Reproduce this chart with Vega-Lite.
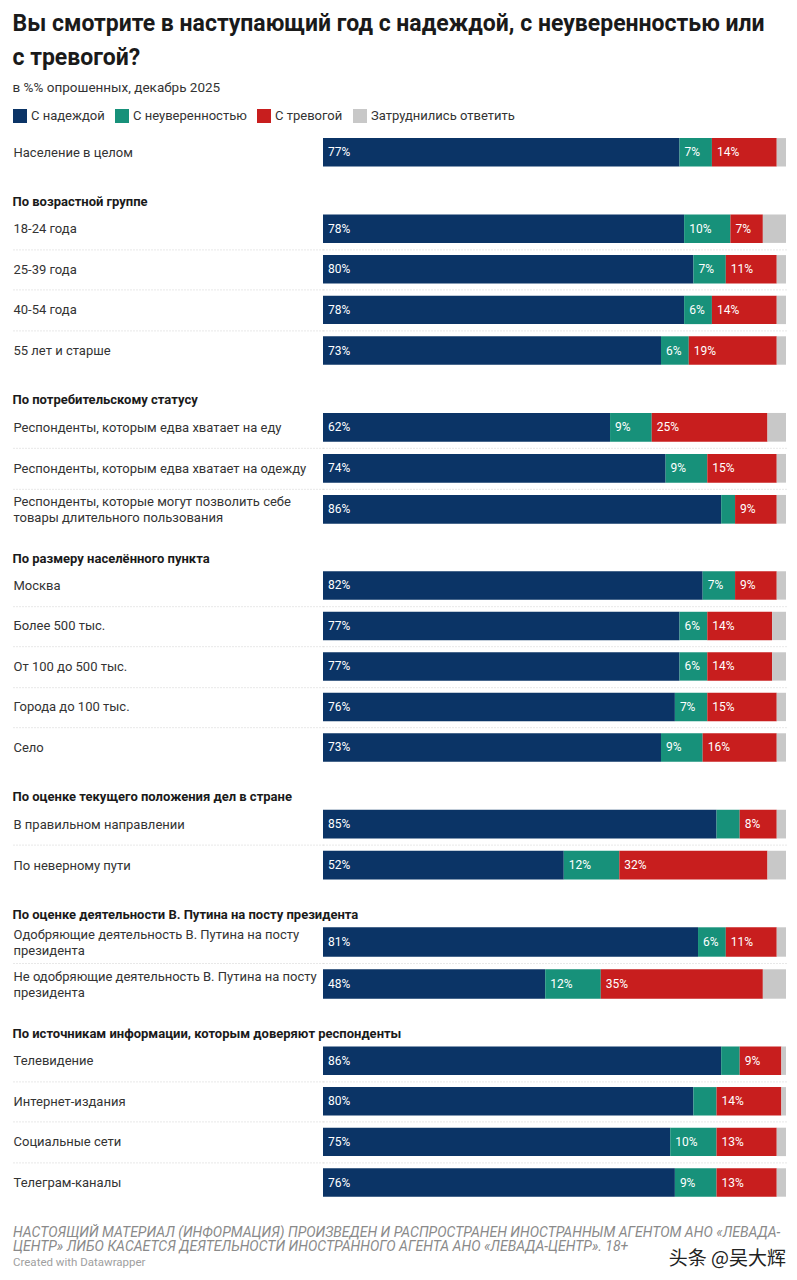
{
  "$schema": "https://vega.github.io/schema/vega-lite/v6.json",
  "background": "white",
  "padding": {"left": 12, "right": 12, "top": 12, "bottom": 0},
  "title": {
    "text": ["Вы смотрите в наступающий год с надеждой, с неуверенностью или", "с тревогой?"],
    "subtitle": "в %% опрошенных, декабрь 2025",
    "anchor": "start",
    "font": "Roboto",
    "fontSize": 23,
    "fontWeight": "bold",
    "color": "#1a1a1a",
    "lineHeight": 34,
    "subtitleFont": "Roboto",
    "subtitleFontSize": 13.5,
    "subtitleColor": "#333333",
    "subtitlePadding": 11,
    "offset": 15
  },
  "data": {
    "values": [
      {"g": 0, "row": "Население в целом", "С надеждой": 77, "С неуверенностью": 7, "С тревогой": 14, "Затруднились ответить": 2},
      {"g": 1, "row": "18-24 года", "С надеждой": 78, "С неуверенностью": 10, "С тревогой": 7, "Затруднились ответить": 5},
      {"g": 1, "row": "25-39 года", "С надеждой": 80, "С неуверенностью": 7, "С тревогой": 11, "Затруднились ответить": 2},
      {"g": 1, "row": "40-54 года", "С надеждой": 78, "С неуверенностью": 6, "С тревогой": 14, "Затруднились ответить": 2},
      {"g": 1, "row": "55 лет и старше", "С надеждой": 73, "С неуверенностью": 6, "С тревогой": 19, "Затруднились ответить": 2},
      {"g": 2, "row": "Респонденты, которым едва хватает на еду", "С надеждой": 62, "С неуверенностью": 9, "С тревогой": 25, "Затруднились ответить": 4},
      {"g": 2, "row": "Респонденты, которым едва хватает на одежду", "С надеждой": 74, "С неуверенностью": 9, "С тревогой": 15, "Затруднились ответить": 2},
      {"g": 2, "row": "Респонденты, которые могут позволить себе|товары длительного пользования", "С надеждой": 86, "С неуверенностью": 3, "С тревогой": 9, "Затруднились ответить": 2},
      {"g": 3, "row": "Москва", "С надеждой": 82, "С неуверенностью": 7, "С тревогой": 9, "Затруднились ответить": 2},
      {"g": 3, "row": "Более 500 тыс.", "С надеждой": 77, "С неуверенностью": 6, "С тревогой": 14, "Затруднились ответить": 3},
      {"g": 3, "row": "От 100 до 500 тыс.", "С надеждой": 77, "С неуверенностью": 6, "С тревогой": 14, "Затруднились ответить": 3},
      {"g": 3, "row": "Города до 100 тыс.", "С надеждой": 76, "С неуверенностью": 7, "С тревогой": 15, "Затруднились ответить": 2},
      {"g": 3, "row": "Село", "С надеждой": 73, "С неуверенностью": 9, "С тревогой": 16, "Затруднились ответить": 2},
      {"g": 4, "row": "В правильном направлении", "С надеждой": 85, "С неуверенностью": 5, "С тревогой": 8, "Затруднились ответить": 2},
      {"g": 4, "row": "По неверному пути", "С надеждой": 52, "С неуверенностью": 12, "С тревогой": 32, "Затруднились ответить": 4},
      {"g": 5, "row": "Одобряющие деятельность В. Путина на посту|президента", "С надеждой": 81, "С неуверенностью": 6, "С тревогой": 11, "Затруднились ответить": 2},
      {"g": 5, "row": "Не одобряющие деятельность В. Путина на посту|президента", "С надеждой": 48, "С неуверенностью": 12, "С тревогой": 35, "Затруднились ответить": 5},
      {"g": 6, "row": "Телевидение", "С надеждой": 86, "С неуверенностью": 4, "С тревогой": 9, "Затруднились ответить": 1},
      {"g": 6, "row": "Интернет-издания", "С надеждой": 80, "С неуверенностью": 5, "С тревогой": 14, "Затруднились ответить": 1},
      {"g": 6, "row": "Социальные сети", "С надеждой": 75, "С неуверенностью": 10, "С тревогой": 13, "Затруднились ответить": 2},
      {"g": 6, "row": "Телеграм-каналы", "С надеждой": 76, "С неуверенностью": 9, "С тревогой": 13, "Затруднились ответить": 2}
    ]
  },
  "transform": [
    {"fold": ["С надеждой", "С неуверенностью", "С тревогой", "Затруднились ответить"], "as": ["cat", "pct"]},
    {"calculate": "indexof(['С надеждой', 'С неуверенностью', 'С тревогой', 'Затруднились ответить'], datum.cat)", "as": "k"},
    {"calculate": "datum.pct + '%'", "as": "lab"},
    {"stack": "pct", "groupby": ["row"], "sort": [{"field": "k"}], "as": ["x0", "x1"]}
  ],
  "vconcat": [
    {
      "width": 463, "height": 40.6,
      "transform": [{"filter": "datum.g == 0"}],
      "encoding": {"y": {"field": "row", "type": "nominal", "sort": null, "axis": {"title": null, "domain": false, "labelAlign": "left", "labelPadding": 0, "labelFont": "Roboto", "labelFontSize": 13, "labelColor": "#333333", "labelLimit": 310, "labelLineHeight": 16, "labelOverlap": false, "labelExpr": "split(datum.label, '|')", "ticks": true, "tickSize": 310, "tickColor": "#d0d0d0", "tickDash": [1, 2], "tickOpacity": 0, "tickOffset": 20.3, "labelOffset": -20.3, "grid": true, "gridColor": "#d0d0d0", "gridDash": [1, 2], "gridOpacity": 0}}},
      "layer": [
        {"mark": {"type": "bar"}, "encoding": {"x": {"field": "x0", "type": "quantitative", "scale": {"domain": [0, 100]}, "axis": null}, "x2": {"field": "x1"}, "color": {"field": "cat", "type": "nominal", "sort": ["С надеждой", "С неуверенностью", "С тревогой", "Затруднились ответить"], "scale": {"domain": ["С надеждой", "С неуверенностью", "С тревогой", "Затруднились ответить"], "range": ["#0b3466", "#17917a", "#c81e1e", "#c8c8c8"]}, "legend": {"title": null, "orient": "none", "legendX": -310, "legendY": -23}}}},
        {"transform": [{"filter": "datum.cat != 'Затруднились ответить' && datum.pct >= 6"}], "mark": {"type": "text", "align": "left", "baseline": "middle", "dx": 5, "color": "white", "font": "Roboto", "fontSize": 12}, "encoding": {"x": {"field": "x0", "type": "quantitative"}, "text": {"field": "lab"}}}
      ]
    },
    {
      "title": "По возрастной группе",
      "width": 463, "height": 162.4,
      "transform": [{"filter": "datum.g == 1"}],
      "encoding": {"y": {"field": "row", "type": "nominal", "sort": null, "axis": {"title": null, "domain": false, "labelAlign": "left", "labelPadding": 0, "labelFont": "Roboto", "labelFontSize": 13, "labelColor": "#333333", "labelLimit": 310, "labelLineHeight": 16, "labelOverlap": false, "labelExpr": "split(datum.label, '|')", "ticks": true, "tickSize": 310, "tickColor": "#d0d0d0", "tickDash": [1, 2], "tickOpacity": {"condition": {"test": "datum.index == 1", "value": 0}, "value": 1}, "tickOffset": 20.3, "labelOffset": -20.3, "grid": true, "gridColor": "#d0d0d0", "gridDash": [1, 2], "gridOpacity": {"condition": {"test": "datum.index == 1", "value": 0}, "value": 1}}}},
      "layer": [
        {"mark": {"type": "bar"}, "encoding": {"x": {"field": "x0", "type": "quantitative", "scale": {"domain": [0, 100]}, "axis": null}, "x2": {"field": "x1"}, "color": {"field": "cat", "type": "nominal", "sort": ["С надеждой", "С неуверенностью", "С тревогой", "Затруднились ответить"], "scale": {"domain": ["С надеждой", "С неуверенностью", "С тревогой", "Затруднились ответить"], "range": ["#0b3466", "#17917a", "#c81e1e", "#c8c8c8"]}, "legend": {"title": null, "orient": "none", "legendX": -310, "legendY": -23}}}},
        {"transform": [{"filter": "datum.cat != 'Затруднились ответить' && datum.pct >= 6"}], "mark": {"type": "text", "align": "left", "baseline": "middle", "dx": 5, "color": "white", "font": "Roboto", "fontSize": 12}, "encoding": {"x": {"field": "x0", "type": "quantitative"}, "text": {"field": "lab"}}}
      ]
    },
    {
      "title": "По потребительскому статусу",
      "width": 463, "height": 123,
      "transform": [{"filter": "datum.g == 2"}],
      "encoding": {"y": {"field": "row", "type": "nominal", "sort": null, "axis": {"title": null, "domain": false, "labelAlign": "left", "labelPadding": 0, "labelFont": "Roboto", "labelFontSize": 13, "labelColor": "#333333", "labelLimit": 310, "labelLineHeight": 16, "labelOverlap": false, "labelExpr": "split(datum.label, '|')", "ticks": true, "tickSize": 310, "tickColor": "#d0d0d0", "tickDash": [1, 2], "tickOpacity": {"condition": {"test": "datum.index == 1", "value": 0}, "value": 1}, "tickOffset": 20.5, "labelOffset": {"condition": {"test": "indexof(datum.value, '|') >= 0", "value": -28.5}, "value": -20.5}, "grid": true, "gridColor": "#d0d0d0", "gridDash": [1, 2], "gridOpacity": {"condition": {"test": "datum.index == 1", "value": 0}, "value": 1}}}},
      "layer": [
        {"mark": {"type": "bar"}, "encoding": {"x": {"field": "x0", "type": "quantitative", "scale": {"domain": [0, 100]}, "axis": null}, "x2": {"field": "x1"}, "color": {"field": "cat", "type": "nominal", "sort": ["С надеждой", "С неуверенностью", "С тревогой", "Затруднились ответить"], "scale": {"domain": ["С надеждой", "С неуверенностью", "С тревогой", "Затруднились ответить"], "range": ["#0b3466", "#17917a", "#c81e1e", "#c8c8c8"]}, "legend": {"title": null, "orient": "none", "legendX": -310, "legendY": -23}}}},
        {"transform": [{"filter": "datum.cat != 'Затруднились ответить' && datum.pct >= 6"}], "mark": {"type": "text", "align": "left", "baseline": "middle", "dx": 5, "color": "white", "font": "Roboto", "fontSize": 12}, "encoding": {"x": {"field": "x0", "type": "quantitative"}, "text": {"field": "lab"}}}
      ]
    },
    {
      "title": "По размеру населённого пункта",
      "width": 463, "height": 202.5,
      "transform": [{"filter": "datum.g == 3"}],
      "encoding": {"y": {"field": "row", "type": "nominal", "sort": null, "axis": {"title": null, "domain": false, "labelAlign": "left", "labelPadding": 0, "labelFont": "Roboto", "labelFontSize": 13, "labelColor": "#333333", "labelLimit": 310, "labelLineHeight": 16, "labelOverlap": false, "labelExpr": "split(datum.label, '|')", "ticks": true, "tickSize": 310, "tickColor": "#d0d0d0", "tickDash": [1, 2], "tickOpacity": {"condition": {"test": "datum.index == 1", "value": 0}, "value": 1}, "tickOffset": 20.25, "labelOffset": -20.25, "grid": true, "gridColor": "#d0d0d0", "gridDash": [1, 2], "gridOpacity": {"condition": {"test": "datum.index == 1", "value": 0}, "value": 1}}}},
      "layer": [
        {"mark": {"type": "bar"}, "encoding": {"x": {"field": "x0", "type": "quantitative", "scale": {"domain": [0, 100]}, "axis": null}, "x2": {"field": "x1"}, "color": {"field": "cat", "type": "nominal", "sort": ["С надеждой", "С неуверенностью", "С тревогой", "Затруднились ответить"], "scale": {"domain": ["С надеждой", "С неуверенностью", "С тревогой", "Затруднились ответить"], "range": ["#0b3466", "#17917a", "#c81e1e", "#c8c8c8"]}, "legend": {"title": null, "orient": "none", "legendX": -310, "legendY": -23}}}},
        {"transform": [{"filter": "datum.cat != 'Затруднились ответить' && datum.pct >= 6"}], "mark": {"type": "text", "align": "left", "baseline": "middle", "dx": 5, "color": "white", "font": "Roboto", "fontSize": 12}, "encoding": {"x": {"field": "x0", "type": "quantitative"}, "text": {"field": "lab"}}}
      ]
    },
    {
      "title": "По оценке текущего положения дел в стране",
      "width": 463, "height": 82,
      "transform": [{"filter": "datum.g == 4"}],
      "encoding": {"y": {"field": "row", "type": "nominal", "sort": null, "axis": {"title": null, "domain": false, "labelAlign": "left", "labelPadding": 0, "labelFont": "Roboto", "labelFontSize": 13, "labelColor": "#333333", "labelLimit": 310, "labelLineHeight": 16, "labelOverlap": false, "labelExpr": "split(datum.label, '|')", "ticks": true, "tickSize": 310, "tickColor": "#d0d0d0", "tickDash": [1, 2], "tickOpacity": {"condition": {"test": "datum.index == 1", "value": 0}, "value": 1}, "tickOffset": 20.5, "labelOffset": -20.5, "grid": true, "gridColor": "#d0d0d0", "gridDash": [1, 2], "gridOpacity": {"condition": {"test": "datum.index == 1", "value": 0}, "value": 1}}}},
      "layer": [
        {"mark": {"type": "bar"}, "encoding": {"x": {"field": "x0", "type": "quantitative", "scale": {"domain": [0, 100]}, "axis": null}, "x2": {"field": "x1"}, "color": {"field": "cat", "type": "nominal", "sort": ["С надеждой", "С неуверенностью", "С тревогой", "Затруднились ответить"], "scale": {"domain": ["С надеждой", "С неуверенностью", "С тревогой", "Затруднились ответить"], "range": ["#0b3466", "#17917a", "#c81e1e", "#c8c8c8"]}, "legend": {"title": null, "orient": "none", "legendX": -310, "legendY": -23}}}},
        {"transform": [{"filter": "datum.cat != 'Затруднились ответить' && datum.pct >= 6"}], "mark": {"type": "text", "align": "left", "baseline": "middle", "dx": 5, "color": "white", "font": "Roboto", "fontSize": 12}, "encoding": {"x": {"field": "x0", "type": "quantitative"}, "text": {"field": "lab"}}}
      ]
    },
    {
      "title": "По оценке деятельности В. Путина на посту президента",
      "width": 463, "height": 84,
      "transform": [{"filter": "datum.g == 5"}],
      "encoding": {"y": {"field": "row", "type": "nominal", "sort": null, "axis": {"title": null, "domain": false, "labelAlign": "left", "labelPadding": 0, "labelFont": "Roboto", "labelFontSize": 13, "labelColor": "#333333", "labelLimit": 310, "labelLineHeight": 16, "labelOverlap": false, "labelExpr": "split(datum.label, '|')", "ticks": true, "tickSize": 310, "tickColor": "#d0d0d0", "tickDash": [1, 2], "tickOpacity": {"condition": {"test": "datum.index == 1", "value": 0}, "value": 1}, "tickOffset": 21, "labelOffset": {"condition": {"test": "indexof(datum.value, '|') >= 0", "value": -29}, "value": -21}, "grid": true, "gridColor": "#d0d0d0", "gridDash": [1, 2], "gridOpacity": {"condition": {"test": "datum.index == 1", "value": 0}, "value": 1}}}},
      "layer": [
        {"mark": {"type": "bar"}, "encoding": {"x": {"field": "x0", "type": "quantitative", "scale": {"domain": [0, 100]}, "axis": null}, "x2": {"field": "x1"}, "color": {"field": "cat", "type": "nominal", "sort": ["С надеждой", "С неуверенностью", "С тревогой", "Затруднились ответить"], "scale": {"domain": ["С надеждой", "С неуверенностью", "С тревогой", "Затруднились ответить"], "range": ["#0b3466", "#17917a", "#c81e1e", "#c8c8c8"]}, "legend": {"title": null, "orient": "none", "legendX": -310, "legendY": -23}}}},
        {"transform": [{"filter": "datum.cat != 'Затруднились ответить' && datum.pct >= 6"}], "mark": {"type": "text", "align": "left", "baseline": "middle", "dx": 5, "color": "white", "font": "Roboto", "fontSize": 12}, "encoding": {"x": {"field": "x0", "type": "quantitative"}, "text": {"field": "lab"}}}
      ]
    },
    {
      "title": "По источникам информации, которым доверяют респонденты",
      "width": 463, "height": 162.4,
      "transform": [{"filter": "datum.g == 6"}],
      "encoding": {"y": {"field": "row", "type": "nominal", "sort": null, "axis": {"title": null, "domain": false, "labelAlign": "left", "labelPadding": 0, "labelFont": "Roboto", "labelFontSize": 13, "labelColor": "#333333", "labelLimit": 310, "labelLineHeight": 16, "labelOverlap": false, "labelExpr": "split(datum.label, '|')", "ticks": true, "tickSize": 310, "tickColor": "#d0d0d0", "tickDash": [1, 2], "tickOpacity": {"condition": {"test": "datum.index == 1", "value": 0}, "value": 1}, "tickOffset": 20.3, "labelOffset": -20.3, "grid": true, "gridColor": "#d0d0d0", "gridDash": [1, 2], "gridOpacity": {"condition": {"test": "datum.index == 1", "value": 0}, "value": 1}}}},
      "layer": [
        {"mark": {"type": "bar"}, "encoding": {"x": {"field": "x0", "type": "quantitative", "scale": {"domain": [0, 100]}, "axis": null}, "x2": {"field": "x1"}, "color": {"field": "cat", "type": "nominal", "sort": ["С надеждой", "С неуверенностью", "С тревогой", "Затруднились ответить"], "scale": {"domain": ["С надеждой", "С неуверенностью", "С тревогой", "Затруднились ответить"], "range": ["#0b3466", "#17917a", "#c81e1e", "#c8c8c8"]}, "legend": {"title": null, "orient": "none", "legendX": -310, "legendY": -23}}}},
        {"transform": [{"filter": "datum.cat != 'Затруднились ответить' && datum.pct >= 6"}], "mark": {"type": "text", "align": "left", "baseline": "middle", "dx": 5, "color": "white", "font": "Roboto", "fontSize": 12}, "encoding": {"x": {"field": "x0", "type": "quantitative"}, "text": {"field": "lab"}}}
      ]
    },
    {
      "title": {
        "text": ["НАСТОЯЩИЙ МАТЕРИАЛ (ИНФОРМАЦИЯ) ПРОИЗВЕДЕН И РАСПРОСТРАНЕН ИНОСТРАННЫМ АГЕНТОМ АНО «ЛЕВАДА-", "ЦЕНТР» ЛИБО КАСАЕТСЯ ДЕЯТЕЛЬНОСТИ ИНОСТРАННОГО АГЕНТА АНО «ЛЕВАДА-ЦЕНТР». 18+"],
        "subtitle": "Created with Datawrapper",
        "orient": "bottom", "anchor": "start",
        "font": "Roboto", "fontSize": 14, "fontStyle": "italic", "fontWeight": "normal", "color": "#8a8a8a", "lineHeight": 14,
        "subtitleFont": "Roboto", "subtitleFontSize": 11.5, "subtitleFontStyle": "normal", "subtitleColor": "#a0a0a0", "subtitlePadding": 3,
        "offset": -59
      },
      "width": 463, "height": 52,
      "data": {"values": [{"w": "头条 @吴大辉"}]},
      "mark": {"type": "text", "align": "right", "baseline": "middle", "font": "Noto Sans CJK SC", "fontSize": 19, "color": "#222222"},
      "encoding": {
        "x": {"datum": 100, "type": "quantitative", "scale": {"domain": [0, 100]}, "axis": null},
        "y": {"field": "w", "type": "nominal", "axis": {"title": null, "domain": false, "labels": false, "ticks": true, "tickSize": 310, "tickOpacity": 0, "grid": false}},
        "text": {"field": "w"}
      }
    }
  ],
  "config": {
    "view": {"stroke": null},
    "font": "Roboto",
    "concat": {"spacing": 22.4},
    "scale": {"bandPaddingInner": 0.3, "bandPaddingOuter": 0.15},
    "title": {"anchor": "start", "font": "Roboto", "fontSize": 13, "fontWeight": "bold", "color": "#1a1a1a", "offset": -0.5},
    "legend": {"direction": "horizontal", "symbolType": "square", "symbolSize": 196, "symbolStrokeWidth": 0, "labelFont": "Roboto", "labelFontSize": 13, "labelColor": "#333333", "labelOffset": 4, "columnPadding": 10, "padding": 0, "labelLimit": 300}
  }
}
